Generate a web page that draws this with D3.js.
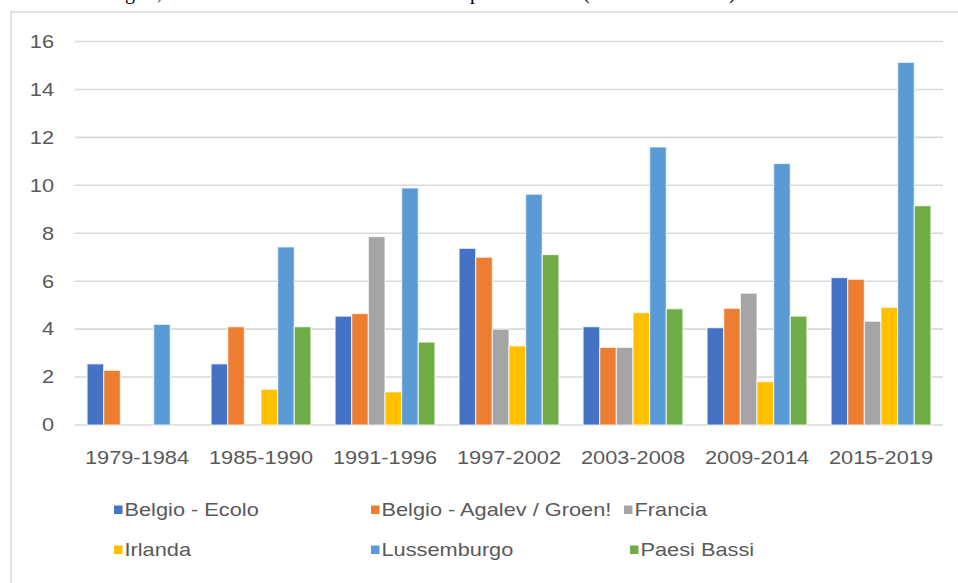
<!DOCTYPE html>
<html>
<head>
<meta charset="utf-8">
<script src="https://cdn.jsdelivr.net/npm/d3@7"></script>
<style>
  html, body { margin: 0; padding: 0; background: #fff; }
  svg { display: block; }
</style>
</head>
<body>
<svg id="chart" width="958" height="583"></svg>
<script>
// Periods on the x axis
const periods = ["1979-1984", "1985-1990", "1991-1996", "1997-2002", "2003-2008", "2009-2014", "2015-2019"];

// Parties / countries (legend order)
const seriesNames = ["Belgio - Ecolo", "Belgio - Agalev / Groen!", "Francia", "Irlanda", "Lussemburgo", "Paesi Bassi"];
const seriesColors = ["#4472C4", "#ED7D31", "#A5A5A5", "#FFC000", "#5B9BD5", "#70AD47"];

// Values per series, one per period (null = no bar)
const belgioEcolo   = [2.55, 2.55, 4.54, 7.37, 4.10, 4.06, 6.15];
const belgioAgalev  = [2.28, 4.10, 4.65, 7.00, 3.24, 4.87, 6.08];
const francia       = [null, null, 7.86, 4.00, 3.24, 5.50, 4.33];
const irlanda       = [null, 1.49, 1.38, 3.30, 4.69, 1.81, 4.91];
const lussemburgo   = [4.20, 7.43, 9.89, 9.63, 11.60, 10.91, 15.13];
const paesiBassi    = [null, 4.10, 3.46, 7.11, 4.85, 4.54, 9.15];
const seriesValues = [belgioEcolo, belgioAgalev, francia, irlanda, lussemburgo, paesiBassi];

// Y axis ticks
const yTicks = [0, 2, 4, 6, 8, 10, 12, 14, 16];

const svg = d3.select("#chart");
const textColor = "#595959";
const gridColor = "#D9D9D9";
const font = "'Liberation Sans', Arial, sans-serif";
const fontSize = 17.7;
const stretchK = 1.23;

// widen the glyphs horizontally to the chart's wide label style
function stretch(sel) {
  sel.each(function () {
    const w = this.getComputedTextLength();
    this.setAttribute("textLength", w * stretchK);
    this.setAttribute("lengthAdjust", "spacingAndGlyphs");
  });
}

// caption line above the chart frame (only its lower edge lies on the page)
const caption = svg.append("g")
  .attr("font-family", "'Liberation Serif', 'Times New Roman', serif")
  .attr("font-size", 20)
  .attr("fill", "#000");
[["g", 125], [",", 157], ["p", 470], ["(", 583], [")", 729]].forEach(([ch, x]) => {
  caption.append("text").attr("x", x).attr("y", -0.8).text(ch);
});

// chart frame
svg.append("rect")
  .attr("x", 11).attr("y", 12)
  .attr("width", 980).attr("height", 600)
  .attr("fill", "none")
  .attr("stroke", gridColor)
  .attr("stroke-width", 1.5);

const plot = { left: 75, right: 943, top: 41.5, bottom: 425 };

const y = d3.scaleLinear().domain([0, 16]).range([plot.bottom, plot.top]);
const x0 = d3.scaleBand().domain(periods)
  .range([plot.left, plot.right])
  .paddingInner(0.195).paddingOuter(0.0975);
const x1 = d3.scaleBand().domain(d3.range(seriesNames.length))
  .range([0, x0.bandwidth()]);

// gridlines
svg.append("g")
  .selectAll("line")
  .data(yTicks)
  .join("line")
  .attr("x1", plot.left).attr("x2", plot.right)
  .attr("y1", d => y(d)).attr("y2", d => y(d))
  .attr("stroke", gridColor)
  .attr("stroke-width", 1.6);

// y axis labels
svg.append("g")
  .selectAll("text")
  .data(yTicks)
  .join("text")
  .attr("x", 54)
  .attr("y", d => y(d))
  .attr("dy", "0.36em")
  .attr("text-anchor", "end")
  .attr("font-family", font)
  .attr("font-size", fontSize)
  .attr("fill", textColor)
  .text(d => d)
  .call(stretch);

// bars
const groups = svg.append("g")
  .selectAll("g")
  .data(periods)
  .join("g")
  .attr("transform", d => `translate(${x0(d)},0)`);

groups.selectAll("rect")
  .data((p, i) => seriesValues.map((vals, s) => ({ s, v: vals[i] })).filter(d => d.v != null))
  .join("rect")
  .attr("x", d => x1(d.s))
  .attr("width", x1.bandwidth())
  .attr("y", d => y(d.v))
  .attr("height", d => y(0) - y(d.v))
  .attr("fill", d => seriesColors[d.s])
  .attr("stroke", "#ffffff")
  .attr("stroke-opacity", 0.7)
  .attr("stroke-width", 1.2);

// x axis labels
svg.append("g")
  .selectAll("text")
  .data(periods)
  .join("text")
  .attr("x", d => x0(d) + x0.bandwidth() / 2)
  .attr("y", 463.5)
  .attr("text-anchor", "middle")
  .attr("font-family", font)
  .attr("font-size", fontSize)
  .attr("fill", textColor)
  .text(d => d)
  .call(stretch);

// legend: three columns, two rows
const legendCols = [114, 371, 624];
const legendRows = [510, 550];
const legend = svg.append("g")
  .selectAll("g")
  .data(seriesNames)
  .join("g")
  .attr("transform", (d, i) => {
    const col = i % 3, row = Math.floor(i / 3);
    const lx = legendCols[col] + (row === 1 && col === 2 ? 6 : 0);
    return `translate(${lx},${legendRows[row]})`;
  });

legend.append("rect")
  .attr("x", 0).attr("y", -4.5)
  .attr("width", 8.5).attr("height", 8.5)
  .attr("fill", (d, i) => seriesColors[i]);

legend.append("text")
  .attr("x", 10.5)
  .attr("y", 0)
  .attr("dy", "0.36em")
  .attr("font-family", font)
  .attr("font-size", fontSize)
  .attr("fill", textColor)
  .text(d => d)
  .call(stretch);
</script>
</body>
</html>
